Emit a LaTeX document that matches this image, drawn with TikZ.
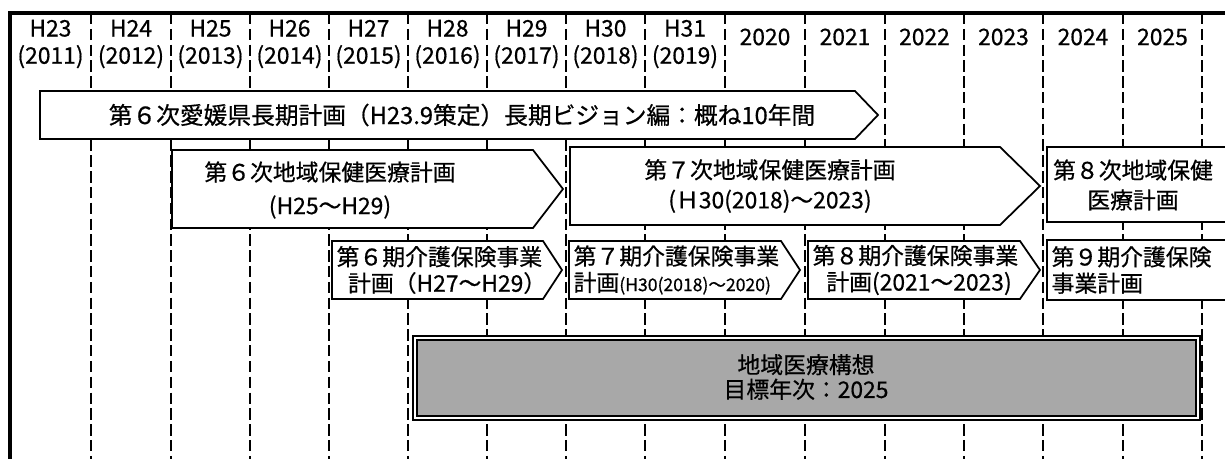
\documentclass[tikz,border=0pt]{standalone}
\usepackage{fontspec}
\setmainfont{Noto Sans CJK JP}[FakeBold=0.6]
\definecolor{kousouGray}{RGB}{168,168,168}

\begin{document}
\begin{tikzpicture}[x=0.02cm, y=-0.02cm, line width=1pt,
  font=\fontsize{13}{15}\selectfont,
  yearline/.style={line width=1.4pt, dash pattern=on 6.5pt off 2.5pt},
  year/.style={align=center, font=\fontsize{13}{15.5}\selectfont},
  plan/.style={draw, fill=white, line width=1pt}]

\useasboundingbox (0,0) rectangle (1225,459);

% frame and year columns
\draw[line width=2pt] (10,465)--(10,13)--(1225,13);
\draw[yearline] (91,13)--(91,465) (171,13)--(171,465) (250,13)--(250,465)
  (329,13)--(329,465) (408,13)--(408,465) (487,13)--(487,465)
  (566,13)--(566,465) (645,13)--(645,465) (725,13)--(725,465)
  (805,13)--(805,465) (885,13)--(885,465) (964,13)--(964,465)
  (1043,13)--(1043,465) (1123,13)--(1123,465) (1202,13)--(1202,465);

\node [year] (h23) at (50.5,44) {H23\\(2011)};
\node [year] (h24) at (131,44) {H24\\(2012)};
\node [year] (h25) at (210.5,44) {H25\\(2013)};
\node [year] (h26) at (289.5,44) {H26\\(2014)};
\node [year] (h27) at (368.5,44) {H27\\(2015)};
\node [year] (h28) at (447.5,44) {H28\\(2016)};
\node [year] (h29) at (526.5,44) {H29\\(2017)};
\node [year] (h30) at (605.5,44) {H30\\(2018)};
\node [year] (h31) at (685,44) {H31\\(2019)};
\node [year] (y2020) at (765,37) {2020};
\node [year] (y2021) at (845,37) {2021};
\node [year] (y2022) at (924.5,37) {2022};
\node [year] (y2023) at (1003.5,37) {2023};
\node [year] (y2024) at (1083,37) {2024};
\node [year] (y2025) at (1162.5,37) {2025};

% long-term plan
\draw[plan] (40,91)--(855,91)--(878,115)--(855,139)--(40,139)--cycle;
\node [font=\fontsize{13.5}{15}\selectfont] (vision) at (462,115) {第６次愛媛県長期計画（H23.9策定）長期ビジョン編：概ね10年間};

% regional health care plans
\draw[plan] (172,150)--(533,150)--(563,189)--(533,228)--(172,228)--cycle;
\node [align=center, font=\fontsize{13}{19}\selectfont] (iryo6) at (330,190) {第６次地域保健医療計画\\(H25～H29)};
\draw[plan] (570,147)--(1000,147)--(1040,186)--(1000,225)--(570,225)--cycle;
\node [align=center, font=\fontsize{13}{17}\selectfont] (iryo7) at (770,186) {第７次地域保健医療計画\\(Ｈ30(2018)～2023)};
\draw[plan] (1235,147)--(1047,147)--(1047,222)--(1235,222);
\node [align=center, font=\fontsize{13}{17}\selectfont] (iryo8) at (1133,185) {第８次地域保健\\医療計画};

% long-term care insurance plans
\draw[plan] (332,241)--(543,241)--(562,270)--(543,299)--(332,299)--cycle;
\node [align=left, anchor=west, inner sep=1pt] (kaigo6) at (334,270) {第６期介護保険事業\\\hspace{0.5em}計画（H27～H29）};
\draw[plan] (569,241)--(781,241)--(800,270)--(781,299)--(569,299)--cycle;
\node [align=left, anchor=west, inner sep=1pt] (kaigo7) at (571,270) {第７期介護保険事業\\計画{\fontsize{10}{15}\selectfont (H30(2018)～2020)}};
\draw[plan] (808,241)--(1020,241)--(1040,270)--(1020,299)--(808,299)--cycle;
\node [align=left, anchor=west, inner sep=1pt] (kaigo8) at (810,270) {第８期介護保険事業\\\hspace{0.6em}計画(2021～2023)};
\draw[plan] (1235,240)--(1047,240)--(1047,300)--(1235,300);
\node [align=left, anchor=west, inner sep=1pt] (kaigo9) at (1049,270) {第９期介護保険\\事業計画};

% regional medical vision
\draw[line width=1.2pt, fill=white] (413,336) rectangle (1200,420);
\draw[line width=1.5pt, fill=kousouGray] (417,340) rectangle (1196,416);
\node [align=center, font=\fontsize{13}{14}\selectfont] (kousou) at (806,377) {地域医療構想\\目標年次：2025};

\end{tikzpicture}
\end{document}
